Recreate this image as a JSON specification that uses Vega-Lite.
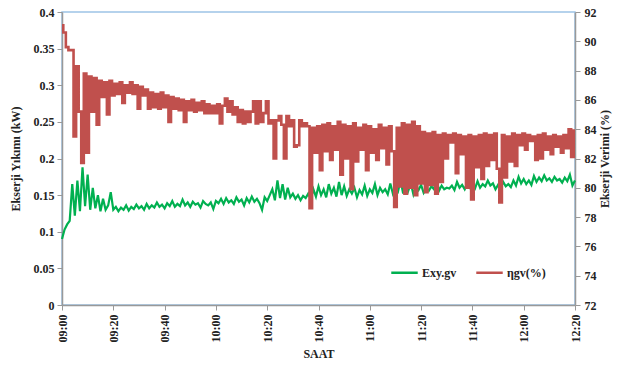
{
"$schema": "https://vega.github.io/schema/vega-lite/v6.json",
"width": 513, "height": 293,
"autosize": "none",
"padding": {"left": 62, "top": 12, "right": 50, "bottom": 62},
"background": "white",
"config": {
 "view": {"stroke": "#9dc3e6", "strokeWidth": 1.5},
 "font": "Liberation Serif",
 "axis": {"labelFont": "Liberation Serif", "labelFontWeight": "bold", "labelFontSize": 12, "labelColor": "#222", "titleFont": "Liberation Serif", "titleFontWeight": "bold", "titleFontSize": 12, "titleColor": "#222", "domainColor": "#999", "domainWidth": 1.5, "tickColor": "#999", "tickSize": 5, "grid": false},
 "legend": {"labelFont": "Liberation Serif", "labelFontWeight": "bold", "labelFontSize": 12, "labelColor": "#222"}
},
"data": {"values": [
{"m":0,"e":0.090,"n":91.1},{"m":1,"e":0.103,"n":90.6},{"m":2,"e":0.110,"n":89.6},{"m":3,"e":0.115,"n":89.4},{"m":4,"e":0.165,"n":89.4},
{"m":5,"e":0.122,"n":83.5},{"m":6,"e":0.170,"n":88.3},{"m":7,"e":0.128,"n":85.2},{"m":8,"e":0.188,"n":81.7},{"m":9,"e":0.135,"n":87.8},
{"m":10,"e":0.178,"n":82.4},{"m":11,"e":0.130,"n":87.6},{"m":12,"e":0.160,"n":85.2},{"m":13,"e":0.132,"n":87.5},{"m":14,"e":0.150,"n":84.3},
{"m":15,"e":0.128,"n":87.3},{"m":16,"e":0.145,"n":86.2},{"m":17,"e":0.130,"n":87.2},{"m":18,"e":0.136,"n":85.0},{"m":19,"e":0.154,"n":87.3},
{"m":20,"e":0.130,"n":86.3},{"m":21,"e":0.134,"n":87.1},{"m":22,"e":0.128,"n":86.4},{"m":23,"e":0.133,"n":87.2},{"m":24,"e":0.130,"n":85.8},
{"m":25,"e":0.136,"n":87.0},{"m":26,"e":0.129,"n":86.5},{"m":27,"e":0.134,"n":87.2},{"m":28,"e":0.131,"n":86.4},{"m":29,"e":0.137,"n":87.0},
{"m":30,"e":0.132,"n":85.4},{"m":31,"e":0.135,"n":86.9},{"m":32,"e":0.130,"n":86.3},{"m":33,"e":0.138,"n":86.7},{"m":34,"e":0.132,"n":85.4},
{"m":35,"e":0.136,"n":86.5},{"m":36,"e":0.133,"n":85.5},{"m":37,"e":0.140,"n":86.4},{"m":38,"e":0.134,"n":85.4},{"m":39,"e":0.137,"n":86.5},
{"m":40,"e":0.132,"n":85.5},{"m":41,"e":0.139,"n":86.3},{"m":42,"e":0.135,"n":84.5},{"m":43,"e":0.142,"n":86.2},{"m":44,"e":0.134,"n":85.4},
{"m":45,"e":0.138,"n":86.1},{"m":46,"e":0.135,"n":85.3},{"m":47,"e":0.144,"n":86.0},{"m":48,"e":0.136,"n":84.5},{"m":49,"e":0.140,"n":85.9},
{"m":50,"e":0.134,"n":85.3},{"m":51,"e":0.141,"n":86.0},{"m":52,"e":0.137,"n":85.2},{"m":53,"e":0.139,"n":85.8},{"m":54,"e":0.133,"n":85.3},
{"m":55,"e":0.142,"n":85.9},{"m":56,"e":0.138,"n":85.1},{"m":57,"e":0.136,"n":85.7},{"m":58,"e":0.140,"n":85.1},{"m":59,"e":0.131,"n":85.6},
{"m":60,"e":0.142,"n":85.1},{"m":61,"e":0.139,"n":85.7},{"m":62,"e":0.145,"n":84.4},{"m":63,"e":0.138,"n":85.6},{"m":64,"e":0.146,"n":86.1},
{"m":65,"e":0.140,"n":85.2},{"m":66,"e":0.143,"n":85.9},{"m":67,"e":0.138,"n":85.0},{"m":68,"e":0.147,"n":85.5},{"m":69,"e":0.141,"n":84.5},
{"m":70,"e":0.144,"n":85.3},{"m":71,"e":0.136,"n":84.4},{"m":72,"e":0.146,"n":85.2},{"m":73,"e":0.140,"n":84.5},{"m":74,"e":0.148,"n":85.2},
{"m":75,"e":0.141,"n":85.9},{"m":76,"e":0.145,"n":84.4},{"m":77,"e":0.139,"n":85.9},{"m":78,"e":0.130,"n":84.5},{"m":79,"e":0.147,"n":85.1},
{"m":80,"e":0.142,"n":85.9},{"m":81,"e":0.150,"n":84.4},{"m":82,"e":0.158,"n":84.6},{"m":83,"e":0.143,"n":82.0},{"m":84,"e":0.170,"n":84.6},
{"m":85,"e":0.146,"n":84.9},{"m":86,"e":0.165,"n":84.3},{"m":87,"e":0.144,"n":82.0},{"m":88,"e":0.160,"n":84.9},{"m":89,"e":0.147,"n":84.2},
{"m":90,"e":0.152,"n":84.6},{"m":91,"e":0.145,"n":82.8},{"m":92,"e":0.150,"n":82.9},{"m":93,"e":0.143,"n":84.6},{"m":94,"e":0.149,"n":84.2},
{"m":95,"e":0.146,"n":84.4},{"m":96,"e":0.152,"n":84.2},{"m":97,"e":0.145,"n":78.6},{"m":98,"e":0.158,"n":84.1},{"m":99,"e":0.148,"n":82.4},
{"m":100,"e":0.162,"n":84.2},{"m":101,"e":0.150,"n":81.2},{"m":102,"e":0.158,"n":84.3},{"m":103,"e":0.147,"n":82.5},{"m":104,"e":0.165,"n":84.4},
{"m":105,"e":0.152,"n":81.9},{"m":106,"e":0.160,"n":84.2},{"m":107,"e":0.148,"n":82.6},{"m":108,"e":0.168,"n":84.5},{"m":109,"e":0.150,"n":80.9},
{"m":110,"e":0.162,"n":84.3},{"m":111,"e":0.149,"n":82.0},{"m":112,"e":0.158,"n":84.2},{"m":113,"e":0.152,"n":79.9},{"m":114,"e":0.160,"n":84.4},
{"m":115,"e":0.147,"n":81.8},{"m":116,"e":0.157,"n":84.1},{"m":117,"e":0.151,"n":82.6},{"m":118,"e":0.163,"n":84.3},{"m":119,"e":0.149,"n":81.2},
{"m":120,"e":0.158,"n":84.2},{"m":121,"e":0.153,"n":82.4},{"m":122,"e":0.165,"n":84.0},{"m":123,"e":0.150,"n":81.9},{"m":124,"e":0.160,"n":84.3},
{"m":125,"e":0.154,"n":82.7},{"m":126,"e":0.158,"n":84.1},{"m":127,"e":0.151,"n":81.6},{"m":128,"e":0.166,"n":84.2},{"m":129,"e":0.152,"n":82.5},
{"m":130,"e":0.160,"n":78.7},{"m":131,"e":0.155,"n":84.1},{"m":132,"e":0.170,"n":80.1},{"m":133,"e":0.152,"n":84.4},{"m":134,"e":0.175,"n":79.6},
{"m":135,"e":0.156,"n":84.3},{"m":136,"e":0.166,"n":80.0},{"m":137,"e":0.151,"n":84.5},{"m":138,"e":0.162,"n":79.5},{"m":139,"e":0.157,"n":84.2},
{"m":140,"e":0.164,"n":80.3},{"m":141,"e":0.153,"n":83.8},{"m":142,"e":0.159,"n":79.7},{"m":143,"e":0.156,"n":83.7},{"m":144,"e":0.162,"n":80.2},
{"m":145,"e":0.158,"n":83.8},{"m":146,"e":0.172,"n":79.6},{"m":147,"e":0.156,"n":83.6},{"m":148,"e":0.163,"n":80.4},{"m":149,"e":0.158,"n":83.7},
{"m":150,"e":0.160,"n":82.0},{"m":151,"e":0.159,"n":83.6},{"m":152,"e":0.163,"n":83.1},{"m":153,"e":0.157,"n":83.7},{"m":154,"e":0.168,"n":81.0},
{"m":155,"e":0.160,"n":83.6},{"m":156,"e":0.164,"n":82.3},{"m":157,"e":0.158,"n":83.5},{"m":158,"e":0.166,"n":80.0},{"m":159,"e":0.160,"n":83.6},
{"m":160,"e":0.163,"n":79.2},{"m":161,"e":0.159,"n":83.5},{"m":162,"e":0.169,"n":81.4},{"m":163,"e":0.160,"n":83.6},{"m":164,"e":0.165,"n":80.6},
{"m":165,"e":0.162,"n":83.7},{"m":166,"e":0.170,"n":81.5},{"m":167,"e":0.163,"n":83.6},{"m":168,"e":0.166,"n":81.9},{"m":169,"e":0.158,"n":83.7},
{"m":170,"e":0.164,"n":81.3},{"m":171,"e":0.160,"n":79.0},{"m":172,"e":0.168,"n":83.6},{"m":173,"e":0.162,"n":80.7},{"m":174,"e":0.165,"n":83.5},
{"m":175,"e":0.161,"n":81.8},{"m":176,"e":0.170,"n":83.7},{"m":177,"e":0.163,"n":81.5},{"m":178,"e":0.175,"n":83.6},{"m":179,"e":0.166,"n":82.9},
{"m":180,"e":0.172,"n":83.7},{"m":181,"e":0.165,"n":82.6},{"m":182,"e":0.170,"n":83.6},{"m":183,"e":0.164,"n":83.2},{"m":184,"e":0.176,"n":83.5},
{"m":185,"e":0.168,"n":81.9},{"m":186,"e":0.174,"n":83.6},{"m":187,"e":0.169,"n":82.0},{"m":188,"e":0.177,"n":83.7},{"m":189,"e":0.170,"n":82.6},
{"m":190,"e":0.173,"n":83.5},{"m":191,"e":0.168,"n":82.3},{"m":192,"e":0.175,"n":83.6},{"m":193,"e":0.170,"n":82.8},{"m":194,"e":0.172,"n":83.5},
{"m":195,"e":0.167,"n":82.4},{"m":196,"e":0.174,"n":83.6},{"m":197,"e":0.169,"n":82.7},{"m":198,"e":0.178,"n":84.0},{"m":199,"e":0.163,"n":82.1},
{"m":200,"e":0.170,"n":83.9}
]},
"layer": [
 {"mark": {"type": "line", "strokeWidth": 2.2},
  "encoding": {
   "x": {"field": "m", "type": "quantitative", "scale": {"domain": [0, 200], "nice": false},
         "axis": {"values": [0,20,40,60,80,100,120,140,160,180,200], "labelExpr": "timeFormat(datetime(2020,0,1,9,datum.value),'%H:%M')", "labelAngle": -90, "labelPadding": 4, "title": "SAAT", "titlePadding": 7}},
   "y": {"field": "e", "type": "quantitative", "scale": {"domain": [0, 0.4], "nice": false},
         "axis": {"values": [0,0.05,0.1,0.15,0.2,0.25,0.3,0.35,0.4], "format": "~g", "labelPadding": 3, "title": "Ekserji Yıkımı (kW)", "titlePadding": 11}},
   "color": {"datum": "Exy.gv", "type": "nominal",
     "scale": {"domain": ["Exy.gv", "ηgv(%)"], "range": ["#00B050", "#C0504D"]},
     "legend": {"title": null, "orient": "none", "legendX": 328, "legendY": 246, "direction": "horizontal", "symbolType": "stroke", "symbolSize": 700, "symbolStrokeWidth": 2.5, "labelOffset": 3, "columnPadding": 14}}
  }},
 {"mark": {"type": "line", "strokeWidth": 2.6, "interpolate": "step"},
  "encoding": {
   "x": {"field": "m", "type": "quantitative"},
   "y": {"field": "n", "type": "quantitative", "scale": {"domain": [72, 92], "nice": false},
         "axis": {"orient": "right", "values": [72,74,76,78,80,82,84,86,88,90,92], "labelPadding": 4, "title": "Ekserji Verimi (%)", "titleAngle": -90, "titleBaseline": "top", "titlePadding": 3}},
   "color": {"datum": "ηgv(%)", "type": "nominal"}
  }}
],
"resolve": {"scale": {"y": "independent"}}
}
